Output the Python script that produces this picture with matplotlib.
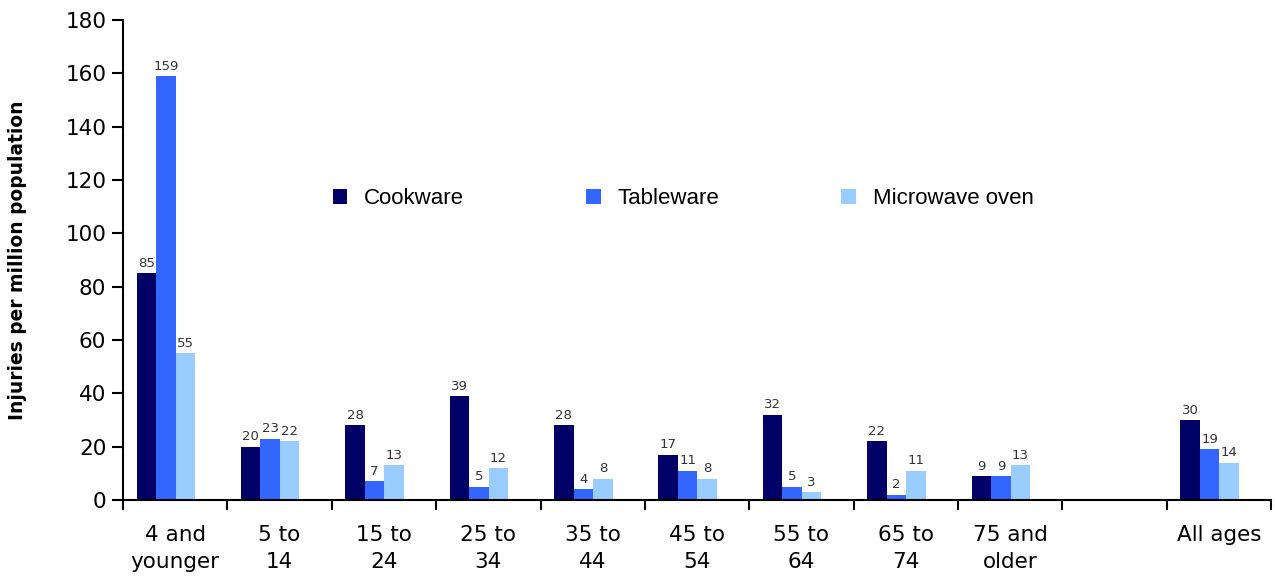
import numpy as np
import matplotlib
matplotlib.use("Agg")
import matplotlib.pyplot as plt
from matplotlib.patches import Patch

# categories (the empty slot before "All ages" is a gap in the chart)
categories = ["4 and\nyounger", "5 to\n14", "15 to\n24", "25 to\n34", "35 to\n44",
              "45 to\n54", "55 to\n64", "65 to\n74", "75 and\nolder", "", "All ages"]
cookware = [85, 20, 28, 39, 28, 17, 32, 22, 9, None, 30]
tableware = [159, 23, 7, 5, 4, 11, 5, 2, 9, None, 19]
microwave = [55, 22, 13, 12, 8, 8, 3, 11, 13, None, 14]

series = [("Cookware", cookware, "#000066"),
          ("Tableware", tableware, "#3366ff"),
          ("Microwave oven", microwave, "#99ccff")]

fig = plt.figure(figsize=(12.75, 5.76), dpi=100)
ax = fig.add_axes([0.0965, 0.132, 0.9005, 0.833])

x = np.arange(len(categories))
w = 0.187
shift = -0.09
for i, (name, vals, col) in enumerate(series):
    v = np.array([np.nan if a is None else a for a in vals], dtype=float)
    pos = x + shift + (i - 1) * w
    ax.bar(pos, v, width=w, color=col)
    for p, val in zip(pos, v):
        if not np.isnan(val):
            ax.text(p, val + 1.3, f"{int(val)}", ha="center", va="bottom",
                    fontsize=9.5, color="#333333")

ax.set_xlim(-0.5, len(categories) - 0.5)
ax.set_ylim(0, 180)
ax.set_yticks(range(0, 181, 20))
ax.tick_params(axis="y", labelsize=15.5, length=8, width=1.5, pad=4)

ax.set_xticks(np.arange(-0.5, len(categories)))
ax.set_xticklabels([])
ax.set_xticks(x, minor=True)
ax.set_xticklabels(categories, minor=True, fontsize=15.5, linespacing=1.45)
ax.tick_params(axis="x", which="major", length=7, width=1.5, direction="out")
ax.tick_params(axis="x", which="minor", length=0, pad=18)

for s in ["top", "right"]:
    ax.spines[s].set_visible(False)
for s in ["left", "bottom"]:
    ax.spines[s].set_linewidth(1.5)

ax.set_ylabel("Injuries per million population", fontsize=13.4, fontweight="bold")
ax.yaxis.set_label_coords(-0.084, 0.5)

handles = [Patch(facecolor=c, label=n) for n, _, c in series]
leg = fig.legend(handles=handles, loc="center left", bbox_to_anchor=(333 / 1275, 1 - 199 / 576),
                 ncol=3, frameon=False, handlelength=0.65, handleheight=0.65,
                 handletextpad=0.75, columnspacing=5.5, borderaxespad=0, borderpad=0,
                 prop={"family": "Liberation Sans", "size": 16})

fig.savefig("out.png", dpi=100)
